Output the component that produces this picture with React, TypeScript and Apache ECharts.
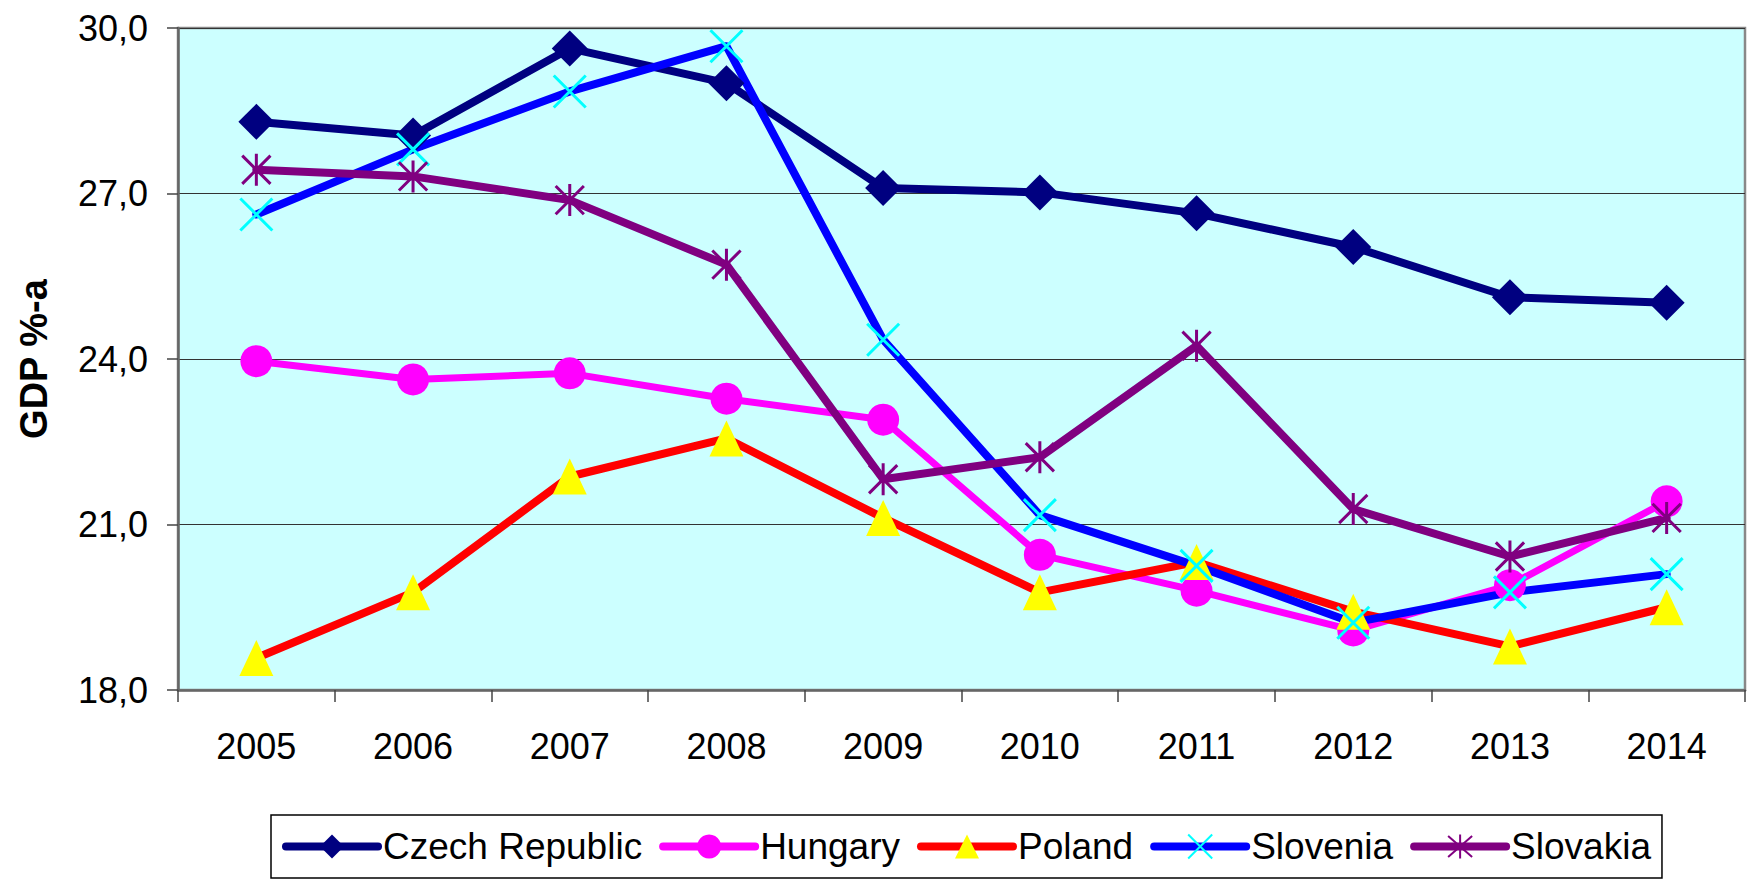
import React, { useEffect, useRef } from "react";
import * as echarts from "echarts";

const years = ["2005", "2006", "2007", "2008", "2009", "2010", "2011", "2012", "2013", "2014"];
const czechRepublic = [28.3, 28.05, 29.63, 29.0, 27.1, 27.02, 26.64, 26.03, 25.12, 25.02];
const hungary = [23.96, 23.63, 23.74, 23.28, 22.9, 20.45, 19.8, 19.08, 19.9, 21.42];
const poland = [18.58, 19.77, 21.87, 22.56, 21.12, 19.77, 20.32, 19.42, 18.79, 19.5];
const slovenia = [26.62, 27.8, 28.85, 29.67, 24.35, 21.17, 20.25, 19.22, 19.77, 20.1];
const slovakia = [27.43, 27.31, 26.88, 25.71, 21.82, 22.22, 24.24, 21.28, 20.42, 21.12];
const yAxisTitle = "GDP %-a";

const FONT = "'Liberation Sans', Arial, sans-serif";
const CROSS = "path://M0 0 L30 30 M30 0 L0 30";
const STAR = "path://M0 0 L30 30 M30 0 L0 30 M15 -2 L15 32";

export default function App() {
  const ref = useRef<HTMLDivElement>(null);
  useEffect(() => {
    if (!ref.current) return;
    const chart = echarts.init(ref.current, null, { renderer: "svg" });
    const lineSeries = (name: string, data: number[], lineColor: string, lineWidth: number, symbol: string, symbolSize: any, markerColor: string, stroke?: boolean) => ({
      name,
      type: "line",
      data,
      symbol,
      symbolSize,
      symbolKeepAspect: true,
      showAllSymbol: true,
      lineStyle: { color: lineColor, width: lineWidth, cap: "round", join: "round" },
      itemStyle: stroke
        ? { color: markerColor, borderColor: markerColor, borderWidth: 3 }
        : { color: markerColor, borderWidth: 0 },
      emphasis: { disabled: true },
    });
    chart.setOption({
      animation: false,
      backgroundColor: "#ffffff",
      textStyle: { fontFamily: FONT },
      grid: {
        left: 178,
        top: 28,
        right: 11,
        bottom: 192,
        show: true,
        backgroundColor: "#CCFFFF",
        borderColor: "#888888",
        borderWidth: 2.5,
      },
      legend: {
        left: 271,
        top: 815,
        orient: "horizontal",
        itemWidth: 92,
        itemHeight: 30,
        itemGap: 17,
        padding: [13, 11, 13, 11],
        borderColor: "#000000",
        borderWidth: 1.5,
        backgroundColor: "#ffffff",
        textStyle: { fontFamily: FONT, fontSize: 37, color: "#000000" },
        lineStyle: { width: 8, cap: "round" },
        data: ["Czech Republic", "Hungary", "Poland", "Slovenia", "Slovakia"],
      },
      xAxis: {
        type: "category",
        data: years,
        boundaryGap: true,
        axisLine: { show: true, lineStyle: { color: "#666666", width: 2.5 } },
        axisTick: { show: true, alignWithLabel: false, length: 12, lineStyle: { color: "#444444", width: 1.5 } },
        axisLabel: { fontFamily: FONT, fontSize: 36, color: "#000000", margin: 38 },
        splitLine: { show: false },
      },
      yAxis: {
        type: "value",
        min: 18,
        max: 30,
        interval: 3,
        name: yAxisTitle,
        nameLocation: "middle",
        nameRotate: 90,
        nameGap: 125,
        nameTextStyle: { fontFamily: FONT, fontSize: 38, fontWeight: "bold", color: "#000000" },
        axisLine: { show: true, lineStyle: { color: "#666666", width: 2.5 } },
        axisTick: { show: true, length: 11, lineStyle: { color: "#444444", width: 1.5 } },
        axisLabel: {
          fontFamily: FONT,
          fontSize: 36,
          color: "#000000",
          margin: 30,
          formatter: (v: number) => v.toFixed(1).replace(".", ","),
        },
        splitLine: { show: true, lineStyle: { color: "#333333", width: 1.2 } },
      },
      series: [
        lineSeries("Czech Republic", czechRepublic, "#000080", 8, "diamond", 36, "#000080"),
        lineSeries("Hungary", hungary, "#FF00FF", 7, "circle", 32, "#FF00FF"),
        lineSeries("Poland", poland, "#FF0000", 8, "triangle", [34, 36], "#FFFF00"),
        lineSeries("Slovenia", slovenia, "#0000FF", 8, CROSS, 32, "#00FFFF", true),
        lineSeries("Slovakia", slovakia, "#800080", 8, STAR, 32, "#800080", true),
      ],
    });
    return () => chart.dispose();
  }, []);
  return <div ref={ref} style={{ position: "fixed", left: 0, top: 0, width: 1756, height: 882 }} />;
}
